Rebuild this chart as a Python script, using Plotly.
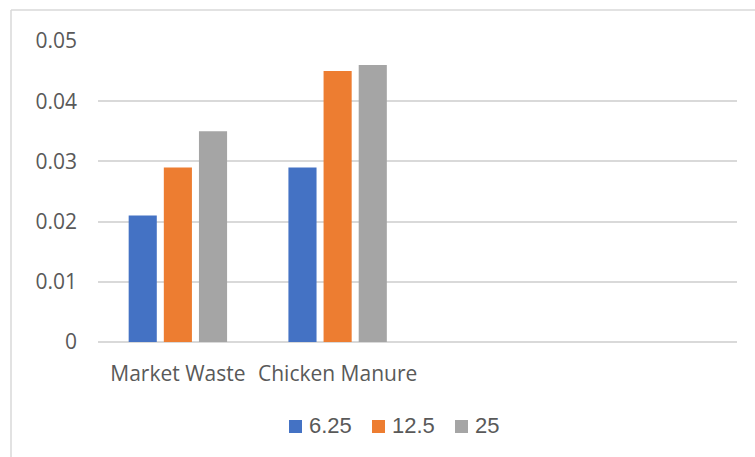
import plotly.graph_objects as go

categories = ["Market Waste", "Chicken Manure", " ", "  "]
series_names = ["6.25", "12.5", "25"]
s625 = [0.021, 0.029, None, None]
s125 = [0.029, 0.045, None, None]
s25 = [0.035, 0.046, None, None]
colors = ["#4472C4", "#ED7D31", "#A5A5A5"]

fig = go.Figure()
for name, vals, c in zip(series_names, [s625, s125, s25], colors):
    fig.add_trace(go.Bar(x=categories, y=vals, name=name, marker=dict(color=c, line=dict(width=0))))

W, H = 755, 457
ml, mr, mt, mb = 98, 18, 41, 115
pw, ph = W - ml - mr, H - mt - mb


def px(x):
    return (x - ml) / pw


def py(y):
    return (H - mb - y) / ph


shapes = [
    dict(type="line", xref="paper", yref="paper",
         x0=px(11), x1=px(11), y0=py(10), y1=py(H + 5),
         line=dict(color="#D9D9D9", width=1.5)),
    dict(type="line", xref="paper", yref="paper",
         x0=px(11), x1=px(W + 5), y0=py(10), y1=py(10),
         line=dict(color="#D9D9D9", width=1.5)),
]
annotations = []
leg_x0, leg_pitch, sq = 289, 83, 13
leg_cy = 426.5
for i, (name, c) in enumerate(zip(series_names, colors)):
    x0 = leg_x0 + i * leg_pitch
    shapes.append(dict(type="rect", xref="paper", yref="paper",
                       x0=px(x0), x1=px(x0 + sq), y0=py(leg_cy - sq / 2), y1=py(leg_cy + sq / 2),
                       fillcolor=c, line=dict(width=0)))
    annotations.append(dict(xref="paper", yref="paper", x=px(x0 + sq + 5), y=py(leg_cy - 1),
                            xanchor="left", yanchor="middle", showarrow=False, text=name,
                            font=dict(family="Liberation Sans", size=22, color="#595959")))

fig.update_layout(
    width=W, height=H,
    margin=dict(l=ml, r=mr, t=mt, b=mb),
    paper_bgcolor="white", plot_bgcolor="white",
    barmode="group", bargap=0.34, bargroupgap=0.2,
    font=dict(family="Open Sans", color="#595959"),
    showlegend=False,
    xaxis=dict(type="category", categoryorder="array", categoryarray=categories,
               showgrid=False, showline=False, zeroline=False, ticks="",
               tickfont=dict(size=21, color="#595959"), range=[-0.5, 3.5],
               ticklabelstandoff=17),
    yaxis=dict(range=[0, 0.05], dtick=0.01, showgrid=True,
               gridcolor="#D9D9D9", gridwidth=2, zeroline=True, zerolinecolor="#D9D9D9",
               zerolinewidth=2, showline=False, ticks="",
               tickfont=dict(size=21, color="#595959"), ticklabelstandoff=20),
    shapes=shapes,
    annotations=annotations,
)

fig.write_html("out.html")
